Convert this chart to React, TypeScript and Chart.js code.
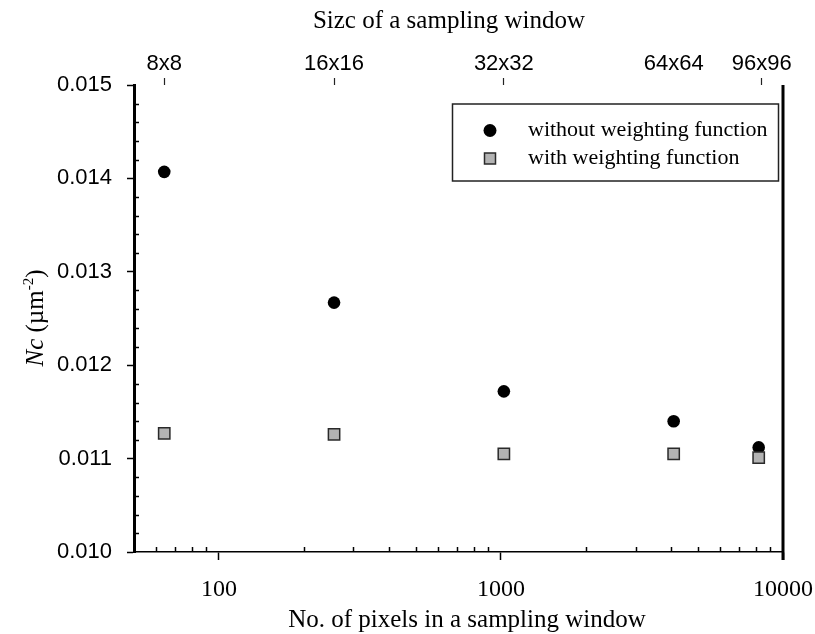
import React, { useEffect, useRef } from 'react';
import { Chart, registerables } from 'chart.js';

Chart.register(...registerables);

// ---- data ----
const pixelCounts = [64, 256, 1024, 4096, 8200];
const withoutWeighting = [0.01407, 0.01267, 0.01172, 0.0114, 0.01112];
const withWeighting = [0.01127, 0.01126, 0.01105, 0.01105, 0.01101];
const seriesNames = ['without weighting function', 'with weighting function'];
const windowSizeLabels = ['8x8', '16x16', '32x32', '64x64', '96x96'];
const windowTickValues = [64, 256, 1024, 4096, 8400];
const bottomTickValues = [100, 1000, 10000];
const yTickValues = [0.01, 0.011, 0.012, 0.013, 0.014, 0.015];
const xRange = [50, 10000];
const topTitle = 'Sizc of a sampling window';
const bottomTitle = 'No. of pixels in a sampling window';

const SERIF = '"Liberation Serif", "Times New Roman", serif';
const SANS = '"Liberation Sans", Arial, sans-serif';

const decorPlugin = {
  id: 'decor',
  afterDraw(chart: any) {
    const { ctx, chartArea, scales } = chart;
    const x = scales.x;
    const y = scales.y;
    ctx.save();
    ctx.strokeStyle = '#000';
    ctx.fillStyle = '#000';
    // minor y ticks (inside)
    ctx.lineWidth = 1.5;
    const yMin = yTickValues[0];
    const yMax = yTickValues[yTickValues.length - 1];
    const nMinor = Math.round((yMax - yMin) / 0.0002);
    for (let k = 1; k < nMinor; k++) {
      if (k % 5 === 0) continue;
      const py = Math.round(y.getPixelForValue(yMin + k * 0.0002)) + 0.5;
      ctx.beginPath();
      ctx.moveTo(chartArea.left, py);
      ctx.lineTo(chartArea.left + 5, py);
      ctx.stroke();
    }
    // minor x ticks (inside)
    for (const dec of [10, 100, 1000]) {
      for (let m = 2; m <= 9; m++) {
        const v = dec * m;
        if (v <= xRange[0] || v >= xRange[1]) continue;
        const px = Math.round(x.getPixelForValue(v)) + 0.5;
        ctx.beginPath();
        ctx.moveTo(px, chartArea.bottom);
        ctx.lineTo(px, chartArea.bottom - 5);
        ctx.stroke();
      }
    }
    // right frame line at the last decade
    ctx.lineWidth = 3;
    const rx = x.getPixelForValue(xRange[1]);
    ctx.beginPath();
    ctx.moveTo(rx, chartArea.top);
    ctx.lineTo(rx, chartArea.bottom + 8);
    ctx.stroke();

    // titles
    ctx.textAlign = 'center';
    ctx.textBaseline = 'alphabetic';
    ctx.font = '25px ' + SERIF;
    ctx.fillText(topTitle, 449, 28);
    ctx.fillText(bottomTitle, 467, 627);

    // y title with italic Nc and superscript
    ctx.translate(43, 318);
    ctx.rotate(-Math.PI / 2);
    const parts = [
      { t: 'Nc', f: 'italic 25px ' + SERIF, dy: 0 },
      { t: ' (\u00b5m', f: '25px ' + SERIF, dy: 0 },
      { t: '-2', f: '15px ' + SERIF, dy: -10 },
      { t: ')', f: '25px ' + SERIF, dy: 0 },
    ];
    let total = 0;
    for (const p of parts) {
      ctx.font = p.f;
      total += ctx.measureText(p.t).width;
    }
    let cx = -total / 2;
    ctx.textAlign = 'left';
    for (const p of parts) {
      ctx.font = p.f;
      ctx.fillText(p.t, cx, p.dy);
      cx += ctx.measureText(p.t).width;
    }
    ctx.restore();
  },
};

const legendPlugin = {
  id: 'boxLegend',
  afterDatasetsDraw(chart: any) {
    const { ctx, chartArea } = chart;
    const left = chartArea.right - 331;
    const top = chartArea.top + 18.5;
    const w = 326;
    const h = 77;
    ctx.save();
    ctx.fillStyle = '#fff';
    ctx.fillRect(left, top, w, h);
    ctx.strokeStyle = '#222';
    ctx.lineWidth = 1.5;
    ctx.strokeRect(left + 0.5, top + 0.5, w, h);
    const mx = left + 38;
    const rows = [top + 27, top + 55];
    const ds = chart.data.datasets;
    // without weighting: black circle
    ctx.fillStyle = ds[1].backgroundColor;
    ctx.beginPath();
    ctx.arc(mx, rows[0], 6.5, 0, Math.PI * 2);
    ctx.fill();
    // with weighting: gray square
    ctx.fillStyle = ds[0].backgroundColor;
    ctx.strokeStyle = ds[0].borderColor;
    ctx.lineWidth = 1.5;
    ctx.fillRect(mx - 5.5, rows[1] - 5.5, 11, 11);
    ctx.strokeRect(mx - 5.5, rows[1] - 5.5, 11, 11);
    ctx.fillStyle = '#000';
    ctx.font = '22px ' + SERIF;
    ctx.textAlign = 'left';
    ctx.textBaseline = 'middle';
    ctx.fillText(seriesNames[0], left + 76, rows[0]);
    ctx.fillText(seriesNames[1], left + 76, rows[1]);
    ctx.restore();
  },
};

export default function App() {
  const ref = useRef<HTMLCanvasElement>(null);
  useEffect(() => {
    if (!ref.current) return;
    const chart = new Chart(ref.current, {
      type: 'scatter',
      data: {
        datasets: [
          {
            label: seriesNames[1],
            data: pixelCounts.map((x, i) => ({ x, y: withWeighting[i] })),
            pointStyle: 'rect',
            radius: 8,
            backgroundColor: '#b3b3b3',
            borderColor: '#2a2a2a',
            borderWidth: 1.5,
            order: 0,
            xAxisID: 'x',
            yAxisID: 'y',
          },
          {
            label: seriesNames[0],
            data: pixelCounts.map((x, i) => ({ x, y: withoutWeighting[i] })),
            pointStyle: 'circle',
            radius: 6.3,
            backgroundColor: '#000',
            borderColor: '#000',
            borderWidth: 0,
            order: 1,
            xAxisID: 'x',
            yAxisID: 'y',
          },
        ],
      },
      options: {
        responsive: false,
        animation: false,
        events: [],
        layout: { padding: { left: 0, right: 32, top: 0, bottom: 0 } },
        plugins: {
          legend: { display: false },
          tooltip: { enabled: false },
          title: { display: false },
        },
        scales: {
          x: {
            type: 'logarithmic',
            position: 'bottom',
            min: xRange[0],
            max: xRange[1],
            afterBuildTicks: (s: any) => {
              s.ticks = bottomTickValues.map((v) => ({ value: v }));
            },
            afterFit: (s: any) => {
              s.height = 82;
              s.paddingLeft = 0;
              s.paddingRight = 0;
            },
            ticks: {
              autoSkip: false,
              maxRotation: 0,
              minRotation: 0,
              padding: 15,
              color: '#000',
              font: { family: SERIF, size: 24 },
              callback: (v: any) => String(v),
            },
            grid: {
              drawOnChartArea: false,
              drawTicks: true,
              tickLength: 8,
              tickWidth: 1.5,
              tickColor: '#000',
            },
            border: { display: true, color: '#000', width: 1.5 },
          },
          x2: {
            type: 'logarithmic',
            axis: 'x',
            position: 'top',
            min: xRange[0],
            max: xRange[1],
            afterBuildTicks: (s: any) => {
              s.ticks = windowTickValues.map((v) => ({ value: v }));
            },
            afterFit: (s: any) => {
              s.height = 85;
              s.paddingLeft = 0;
              s.paddingRight = 0;
            },
            ticks: {
              autoSkip: false,
              maxRotation: 0,
              minRotation: 0,
              padding: 1,
              color: '#000',
              font: { family: SANS, size: 22 },
              callback: (_v: any, i: number) => windowSizeLabels[i],
            },
            grid: {
              drawOnChartArea: false,
              drawTicks: true,
              tickLength: 7,
              tickWidth: 1.2,
              tickColor: (c: any) => (c.index === 3 ? 'rgba(0,0,0,0)' : '#222'),
            },
            border: { display: false },
          },
          y: {
            type: 'linear',
            position: 'left',
            min: yTickValues[0],
            max: yTickValues[yTickValues.length - 1],
            afterBuildTicks: (s: any) => {
              s.ticks = yTickValues.map((v) => ({ value: v }));
            },
            afterFit: (s: any) => {
              s.width = 134;
              s.paddingTop = 0;
              s.paddingBottom = 0;
            },
            ticks: {
              padding: 15,
              color: '#000',
              font: { family: SANS, size: 22 },
              callback: (v: any) => Number(v).toFixed(3),
            },
            grid: {
              drawOnChartArea: false,
              drawTicks: true,
              tickLength: 7,
              tickWidth: 1.5,
              tickColor: '#000',
            },
            border: { display: true, color: '#000', width: 3 },
          },
        },
      },
      plugins: [legendPlugin, decorPlugin],
    } as any);
    return () => chart.destroy();
  }, []);
  return (
    <div style={{ position: 'absolute', left: 0, top: 0, width: 815, height: 634, background: '#fff' }}>
      <canvas ref={ref} width={815} height={634} style={{ display: 'block' }} />
    </div>
  );
}
